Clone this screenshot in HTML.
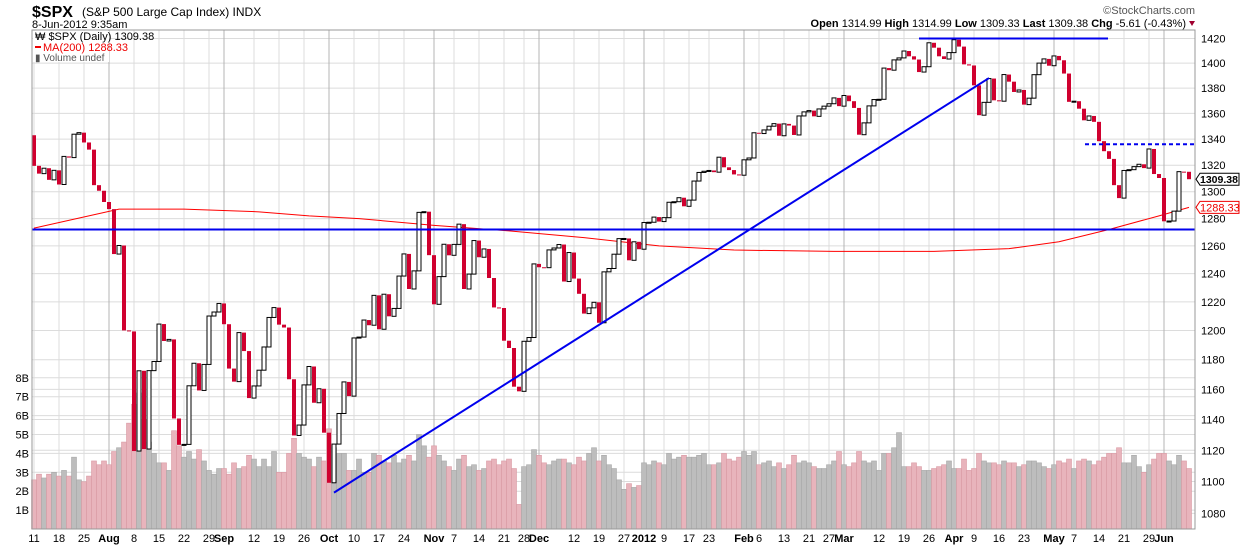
<!DOCTYPE html>
<html><head><meta charset="utf-8">
<style>
body{margin:0;background:#fff;font-family:"Liberation Sans",sans-serif;}
svg text{font-family:"Liberation Sans",sans-serif;}
</style></head>
<body>
<svg id="c" width="1240" height="546" xmlns="http://www.w3.org/2000/svg">
<text x="32" y="17" font-size="16" font-weight="bold">$SPX</text>
<text x="82" y="16" font-size="12">(S&amp;P 500 Large Cap Index)  INDX</text>
<text x="32" y="28" font-size="11">8-Jun-2012 9:35am</text>
<text x="1195" y="14" font-size="11" fill="#555" text-anchor="end">©StockCharts.com</text>
<text x="1186" y="27" font-size="11" text-anchor="end"><tspan font-weight="bold">Open</tspan> 1314.99  <tspan font-weight="bold">High</tspan> 1314.99  <tspan font-weight="bold">Low</tspan> 1309.33  <tspan font-weight="bold">Last</tspan> 1309.38  <tspan font-weight="bold">Chg</tspan> -5.61 (-0.43%)</text>
<path d="M1189 21 L1195 21 L1192 26 Z" fill="#a00030"/>
<g id="grid"></g><g id="vol"></g><g id="ma"></g><g id="candles"></g><g id="ann"></g><g id="axes"></g>
<rect x="32" y="30" width="1163" height="499" fill="none" stroke="#999"/>
<g>
<rect x="33" y="31" width="76" height="31" fill="#fff"/>
<text x="35" y="40" font-size="11">₩ $SPX (Daily) 1309.38</text>
<rect x="35" y="46" width="6" height="2" fill="#e00"/>
<text x="43" y="51" font-size="11" fill="#e00">MA(200) 1288.33</text>
<text x="35" y="61" font-size="10" fill="#555">▮ Volume undef</text>
</g>
</svg>
<script>
const closes=[1319.5,1313.6,1317.7,1308.9,1316.1,1305.4,1326.7,1325.8,1343.8,1345.0,1337.4,1331.9,1304.9,1300.7,1292.3,
1287.0,1254.1,1260.3,1200.1,1199.4,1119.5,1172.5,1120.8,1172.6,1178.8,1204.5,1192.8,1193.9,1140.7,1123.5,1123.8,1162.4,1177.6,1159.3,1176.8,1210.1,1212.9,1218.9,
1204.4,1174.0,1165.2,1198.6,1185.9,1154.2,1162.3,1172.9,1188.7,1209.1,1216.0,1204.1,1202.1,1166.8,1129.6,1136.4,1163.0,1175.4,1151.1,1160.4,1131.4,
1099.2,1124.0,1144.0,1165.0,1155.5,1194.9,1195.5,1207.3,1203.7,1224.6,1200.9,1225.4,1209.9,1215.4,1238.3,1254.2,1229.1,1242.0,1284.6,1285.1,1253.3,
1218.3,1237.9,1261.2,1253.2,1261.1,1275.9,1229.1,1239.7,1263.9,1251.8,1257.8,1236.9,1216.1,1215.7,1193.0,1188.0,1161.8,1158.7,1192.6,1195.2,1247.0,
1244.6,1244.3,1257.1,1258.5,1261.0,1234.4,1255.2,1236.5,1225.7,1211.8,1215.8,1219.7,1205.4,1241.3,1243.7,1254.0,1265.3,1265.4,1249.6,1263.0,1257.6,
1277.1,1277.3,1281.1,1277.8,1280.7,1292.1,1292.5,1295.5,1289.1,1293.7,1308.0,1314.5,1315.4,1316.0,1314.7,1326.1,1318.4,1316.3,1313.0,1312.4,
1324.1,1325.5,1344.9,1344.3,1347.1,1350.0,1352.0,1342.6,1351.8,1350.5,1343.2,1358.0,1361.2,1362.2,1357.7,1363.5,1365.7,1367.6,1372.2,1365.7,
1374.1,1369.6,1364.3,1343.4,1352.6,1365.9,1370.9,1371.1,1396.0,1394.3,1402.6,1404.2,1409.8,1405.5,1402.9,1392.8,1397.1,1416.5,1412.5,1405.5,1403.3,1408.5,
1419.0,1413.4,1399.0,1398.1,1382.2,1358.6,1368.7,1387.6,1370.3,1369.6,1390.8,1385.1,1376.9,1378.5,1366.9,1372.0,1390.7,1400.0,1403.4,1397.9,
1405.8,1402.3,1391.6,1369.1,1369.6,1363.7,1354.6,1358.0,1353.4,1338.4,1330.7,1324.8,1304.9,1295.2,1316.0,1316.6,1318.9,1320.7,1317.8,1332.4,1313.3,1310.3,
1278.0,1278.2,1285.5,1315.1,1315.0,1309.38];
const firstOpen=1343.0;
const volumes=[2.6,2.9,2.7,2.9,3.0,2.8,3.1,2.8,3.8,2.6,2.5,2.8,3.6,3.4,3.6,
3.4,4.1,4.3,4.6,5.6,6.6,7.2,5.8,4.6,4.0,3.5,3.5,3.1,5.2,4.4,3.8,4.1,3.7,4.2,3.6,3.1,2.9,3.2,
3.2,2.9,3.5,3.2,3.3,3.9,3.7,3.3,3.7,3.3,4.1,3.0,3.0,4.0,4.8,4.0,3.8,3.7,3.3,3.8,3.6,
5.3,4.3,4.0,4.0,3.1,3.1,3.7,3.0,3.0,4.0,3.9,3.6,3.5,3.9,3.5,3.7,3.9,3.6,5.0,4.4,3.8,
4.4,3.9,3.6,3.3,3.1,3.7,3.9,3.3,3.4,3.1,3.2,3.6,3.7,3.4,3.6,3.7,3.2,1.3,3.3,3.4,4.2,
3.9,3.5,3.4,3.6,3.7,3.7,3.5,3.4,3.8,3.6,4.0,4.3,3.6,3.9,3.4,3.2,2.6,2.1,2.4,2.2,2.3,
3.5,3.4,3.6,3.5,3.4,4.0,3.7,3.8,3.9,3.8,3.8,3.9,4.0,3.4,3.4,3.5,4.0,3.7,3.6,3.8,
4.1,3.9,4.1,3.4,3.5,3.6,3.3,3.5,3.2,3.4,3.9,3.5,3.6,3.5,3.3,3.2,3.2,3.4,3.6,4.1,
3.4,3.3,3.5,4.1,3.6,3.5,3.6,3.1,4.0,4.0,4.3,5.1,3.3,3.3,3.5,3.3,3.1,3.1,3.2,3.3,3.4,3.6,
3.2,3.2,3.7,3.1,3.2,4.0,3.6,3.5,3.5,3.4,3.6,3.5,3.5,3.3,3.4,3.6,3.6,3.5,3.3,3.2,
3.4,3.6,3.5,3.7,3.2,3.6,3.7,3.6,3.4,3.6,3.8,4.0,4.0,4.3,3.5,3.5,3.9,3.3,3.0,3.4,3.7,4.0,
4.0,3.6,3.4,3.9,3.6,3.2];
const maIdx=[0,17,30,45,55,65,80,95,110,125,140,160,180,195,205,215,225,231];
const maVal=[1273,1287,1287,1285,1282,1280,1275,1271,1266,1260,1257,1256,1256,1258,1263,1272,1282,1288.33];
const tickIdx=[0,5,10,15,20,25,30,35,38,44,49,54,59,64,69,74,80,84,89,94,98,101,108,113,118,122,126,131,135,142,145,150,155,159,162,169,174,179,184,188,193,198,204,208,213,218,223,226];
const tickLab=["11","18","25","Aug","8","15","22","29","Sep","12","19","26","Oct","10","17","24","Nov","7","14","21","28","Dec","12","19","27","2012","9","17","23","Feb","6","13","21","27","Mar","12","19","26","Apr","9","16","23","May","7","14","21","29","Jun"];
const priceTicks=[1080,1100,1120,1140,1160,1180,1200,1220,1240,1260,1280,1300,1320,1340,1360,1380,1400,1420];
const volTicks=[1,2,3,4,5,6,7,8];
const supportLevel=1272, resistLevel=1420, dashLevel=1336;
const trendStart=[60,1093], trendEnd=[191,1388];

const NS="http://www.w3.org/2000/svg";
const X=i=>34+5*i;
const Y=p=>38.5+1735*Math.log(1420/p);
const VY=v=>529-v*18.9;
function mk(tag,attrs,parent){const e=document.createElementNS(NS,tag);for(const k in attrs)e.setAttribute(k,attrs[k]);parent.appendChild(e);return e;}
const grid=document.getElementById('grid'),vol=document.getElementById('vol'),maG=document.getElementById('ma'),cg=document.getElementById('candles'),ann=document.getElementById('ann'),ax=document.getElementById('axes');
priceTicks.forEach(p=>{
 const l=mk('line',{x1:32,x2:1195,y1:Y(p),y2:Y(p),stroke:'#dcdcdc'},grid);
 
 
 const t=mk('text',{x:1201,y:Y(p)+4,'font-size':11},ax);t.textContent=p;
 
 
});
volTicks.forEach(v=>{
 const l=mk('line',{x1:32,x2:1195,y1:VY(v),y2:VY(v),stroke:'#dcdcdc'},grid);
 
 
 const t=mk('text',{x:29,y:VY(v)+4,'font-size':11,'text-anchor':'end'},ax);t.textContent=v+'B';
 
 
});
tickIdx.forEach((i,k)=>{
 const isM=/[A-Za-z]|2012/.test(tickLab[k]);
 const l=mk('line',{x1:X(i),x2:X(i),y1:30,y2:529,stroke:isM?'#b4b4b4':'#dcdcdc'},grid);
 
 
 const t=mk('text',{x:X(i),y:542,'font-size':11,'text-anchor':'middle','font-weight':isM?'bold':'normal'},ax);t.textContent=tickLab[k];
 
 
});
closes.forEach((c,i)=>{
 const o=i===0?firstOpen:closes[i-1];
 const down=c<o;
 if(i<volumes.length){
  const b=mk('rect',{x:X(i)-2.5,y:VY(volumes[i]),width:5,height:529-VY(volumes[i]),fill:down?'#e8b4bc':'#bdbdbd',stroke:down?'#d99aa4':'#a8a8a8','stroke-width':0.6},vol);
  
  
 }
 const top=Y(Math.max(o,c)),bot=Y(Math.min(o,c));
 const h=Math.max(1,bot-top);
 const r=mk('rect',down?{x:X(i)-2,y:top,width:4,height:h,fill:'#d0002f'}:{x:X(i)-2,y:top,width:4,height:h,fill:'#fff',stroke:'#000','stroke-width':1},cg);
 
 
});
let d='';maIdx.forEach((i,k)=>{d+=(k?'L':'M')+X(i)+' '+Y(maVal[k]);});
const mp=mk('path',{d:d,fill:'none',stroke:'#f00','stroke-width':1},maG);


const s=mk('line',{x1:32,x2:1195,y1:Y(supportLevel),y2:Y(supportLevel),stroke:'#0000ee','stroke-width':2},ann);


const r1=mk('line',{x1:919,x2:1108,y1:Y(resistLevel),y2:Y(resistLevel),stroke:'#0000ee','stroke-width':2},ann);


const dl=mk('line',{x1:1085,x2:1195,y1:Y(dashLevel),y2:Y(dashLevel),stroke:'#0000ee','stroke-width':2,'stroke-dasharray':'4,3'},ann);


const tl=mk('line',{x1:X(trendStart[0]),y1:Y(trendStart[1]),x2:X(trendEnd[0]),y2:Y(trendEnd[1]),stroke:'#0000ee','stroke-width':2},ann);


function tag(val,color,bold,name){
 const y=Y(val);
 const g=mk('g',{},ax);
 
 
 mk('path',{d:`M1196 ${y} L1200 ${y-6} L1239 ${y-6} L1239 ${y+6} L1200 ${y+6} Z`,fill:'#fff',stroke:color},g);
 const t=mk('text',{x:1200,y:y+4,'font-size':bold?10.5:11,fill:color,'font-weight':bold?'bold':'normal'},g);t.textContent=val.toFixed(2);
}
tag(closes[closes.length-1],'#000',true,'last-price-tag');
tag(maVal[maVal.length-1],'#e00',false,'ma-value-tag');
</script>
</body></html>
